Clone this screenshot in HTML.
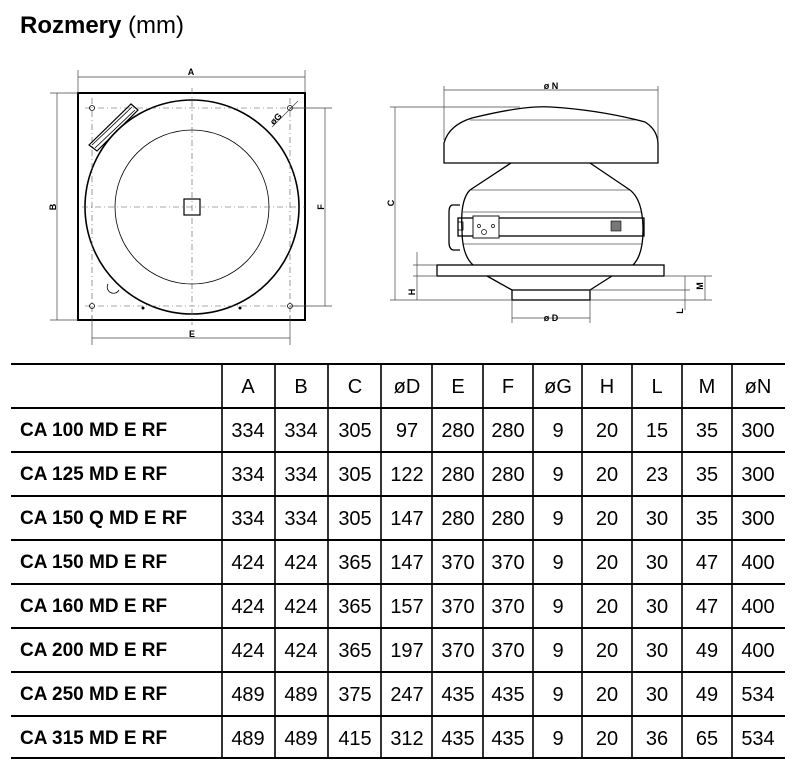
<!DOCTYPE html>
<html><head><meta charset="utf-8"><style>
body{margin:0;background:#fff;width:794px;height:767px;overflow:hidden;font-family:"Liberation Sans",sans-serif}
svg{position:absolute;left:0;top:0}
</style></head><body>
<svg width="794" height="767" viewBox="0 0 794 767" font-family="Liberation Sans, sans-serif">
<text x="20" y="33" font-size="24" font-weight="bold">Rozmery <tspan font-weight="normal">(mm)</tspan></text>

<!-- Left drawing -->
<g stroke="#000" fill="none">
<rect x="78" y="93" width="227" height="227" stroke-width="2"/>
<circle cx="192" cy="207" r="107" stroke-width="1.6"/>
<circle cx="192" cy="207" r="77" stroke-width="0.8"/>
<rect x="184" y="199" width="16" height="16" stroke-width="1.2"/>
<g stroke-width="0.6" stroke-dasharray="6,3,1,3" stroke="#555">
<line x1="192" y1="88" x2="192" y2="325"/><line x1="82" y1="207" x2="305" y2="207"/>
<line x1="85" y1="108" x2="300" y2="108"/><line x1="85" y1="306" x2="300" y2="306"/>
<line x1="92" y1="98" x2="92" y2="316"/><line x1="290" y1="98" x2="290" y2="316"/>
</g>
<g stroke-width="0.8">
<circle cx="92" cy="108" r="2.5"/><circle cx="290" cy="108" r="2.5"/><circle cx="92" cy="306" r="2.5"/><circle cx="290" cy="306" r="2.5"/>
<path d="M108 284 a6 6 0 1 0 11 6"/>
<path d="M89 145 L131 104 L138 110 L97 151 Z" stroke-width="1.2"/>
<line x1="92" y1="145" x2="132" y2="107"/><line x1="95" y1="148" x2="135" y2="110"/>
</g>
<circle cx="143" cy="308" r="1" fill="#000"/><circle cx="240" cy="308" r="1" fill="#000"/>
<!-- dimension lines -->
<g stroke-width="0.7" stroke="#444">
<line x1="78" y1="77" x2="305" y2="77"/><line x1="78" y1="70" x2="78" y2="93"/><line x1="305" y1="70" x2="305" y2="93"/>
<line x1="57" y1="93" x2="57" y2="320"/><line x1="50" y1="93" x2="78" y2="93"/><line x1="50" y1="320" x2="78" y2="320"/>
<line x1="325" y1="108" x2="325" y2="306"/><line x1="290" y1="108" x2="332" y2="108"/><line x1="290" y1="306" x2="332" y2="306"/>
<line x1="92" y1="338" x2="290" y2="338"/><line x1="92" y1="316" x2="92" y2="345"/><line x1="290" y1="316" x2="290" y2="345"/>
<line x1="272" y1="127" x2="298" y2="101"/>
</g>
</g>
<g fill="#000" font-size="9" font-weight="bold" text-anchor="middle">
<text x="191" y="75">A</text>
<text x="192" y="337">E</text>
<text x="0" y="0" transform="translate(56,207) rotate(-90)">B</text>
<text x="0" y="0" transform="translate(324,207) rotate(-90)">F</text>
<text x="0" y="0" transform="translate(278,121) rotate(-45)">øG</text>
</g>

<!-- Right drawing -->
<g stroke="#000" fill="none" stroke-width="1.3">
<path d="M444 163 L444 143 Q449 125 472 118 Q525 105 551 107 Q600 110 645 122 Q658 130 658 145 L658 163 Z"/>
<line x1="470" y1="120" x2="635" y2="120" stroke-width="0.5"/>
<path d="M511 163 L470 190 M590 163 L630 190"/>
<path d="M470 190 Q460 200 462 230 Q462 255 473 265 M630 190 Q643 200 643 230 Q643 255 633 265"/>
<line x1="470" y1="190" x2="630" y2="190" stroke-width="0.5"/>
<line x1="463" y1="212" x2="642" y2="212" stroke-width="0.5"/>
<line x1="463" y1="244" x2="642" y2="244" stroke-width="0.5"/>
<rect x="458" y="218" width="186" height="18"/>
<rect x="473" y="216" width="26" height="22" fill="#fff" stroke-width="0.9"/>
<path d="M460 205 L452 205 Q449 206 449 212 L449 242 Q449 249 453 250 L460 250" stroke-width="1.3"/>
<rect x="458" y="222" width="5" height="8" stroke-width="0.8"/>
<rect x="611" y="221" width="10" height="10" fill="#777" stroke-width="0.6"/>
<circle cx="479" cy="226" r="1.5" stroke-width="0.7"/><circle cx="493" cy="226" r="1.5" stroke-width="0.7"/><circle cx="484" cy="232" r="2.5" stroke-width="0.7"/>
<rect x="437" y="265" width="227" height="11"/>
<path d="M487 276 L512 290 M612 276 L590 290"/>
<rect x="512" y="290" width="78" height="10"/>
<g stroke-width="0.7" stroke="#444">
<line x1="444" y1="90" x2="658" y2="90"/><line x1="444" y1="86" x2="444" y2="140"/><line x1="658" y1="86" x2="658" y2="140"/>
<line x1="395" y1="107" x2="395" y2="300"/><line x1="390" y1="107" x2="520" y2="107"/><line x1="390" y1="300" x2="512" y2="300"/>
<line x1="512" y1="318" x2="590" y2="318"/><line x1="512" y1="300" x2="512" y2="323"/><line x1="590" y1="300" x2="590" y2="323"/>
<line x1="417" y1="252" x2="417" y2="300"/><line x1="413" y1="265" x2="437" y2="265"/><line x1="413" y1="276" x2="437" y2="276"/>
<line x1="685" y1="276" x2="685" y2="310"/><line x1="705" y1="276" x2="705" y2="300"/>
<line x1="664" y1="276" x2="712" y2="276"/><line x1="590" y1="290" x2="690" y2="290"/><line x1="590" y1="300" x2="712" y2="300"/>
</g>
</g>
<g fill="#000" font-size="9" font-weight="bold" text-anchor="middle">
<text x="551" y="89">ø N</text>
<text x="551" y="321">ø D</text>
<text x="0" y="0" transform="translate(394,203) rotate(-90)">C</text>
<text x="0" y="0" transform="translate(415,292) rotate(-90)">H</text>
<text x="0" y="0" transform="translate(703,286) rotate(-90)">M</text>
<text x="0" y="0" transform="translate(683,311) rotate(-90)">L</text>
</g>

<!-- Table -->
<g stroke="#000" stroke-width="2">
<line x1="11" y1="364" x2="785" y2="364"/>
<line x1="11" y1="408" x2="785" y2="408"/>
<line x1="11" y1="452" x2="785" y2="452"/>
<line x1="11" y1="496" x2="785" y2="496"/>
<line x1="11" y1="540" x2="785" y2="540"/>
<line x1="11" y1="584" x2="785" y2="584"/>
<line x1="11" y1="628" x2="785" y2="628"/>
<line x1="11" y1="672" x2="785" y2="672"/>
<line x1="11" y1="716" x2="785" y2="716"/>
<line x1="11" y1="758" x2="785" y2="758"/>
<g stroke-width="1.6">
<line x1="222" y1="364" x2="222" y2="758"/><line x1="275" y1="364" x2="275" y2="758"/>
<line x1="328" y1="364" x2="328" y2="758"/><line x1="381" y1="364" x2="381" y2="758"/>
<line x1="432" y1="364" x2="432" y2="758"/><line x1="483" y1="364" x2="483" y2="758"/>
<line x1="533" y1="364" x2="533" y2="758"/><line x1="582" y1="364" x2="582" y2="758"/>
<line x1="632" y1="364" x2="632" y2="758"/><line x1="682" y1="364" x2="682" y2="758"/>
<line x1="732" y1="364" x2="732" y2="758"/>
</g>
</g>
<g font-size="20" text-anchor="middle" fill="#000">
<text y="393"><tspan x="248">A</tspan><tspan x="301">B</tspan><tspan x="355">C</tspan><tspan x="407">øD</tspan><tspan x="458">E</tspan><tspan x="508">F</tspan><tspan x="558">øG</tspan><tspan x="607">H</tspan><tspan x="657">L</tspan><tspan x="707">M</tspan><tspan x="758">øN</tspan></text>
<text y="437"><tspan x="248">334</tspan><tspan x="301">334</tspan><tspan x="355">305</tspan><tspan x="407">97</tspan><tspan x="458">280</tspan><tspan x="508">280</tspan><tspan x="558">9</tspan><tspan x="607">20</tspan><tspan x="657">15</tspan><tspan x="707">35</tspan><tspan x="758">300</tspan></text>
<text y="481"><tspan x="248">334</tspan><tspan x="301">334</tspan><tspan x="355">305</tspan><tspan x="407">122</tspan><tspan x="458">280</tspan><tspan x="508">280</tspan><tspan x="558">9</tspan><tspan x="607">20</tspan><tspan x="657">23</tspan><tspan x="707">35</tspan><tspan x="758">300</tspan></text>
<text y="525"><tspan x="248">334</tspan><tspan x="301">334</tspan><tspan x="355">305</tspan><tspan x="407">147</tspan><tspan x="458">280</tspan><tspan x="508">280</tspan><tspan x="558">9</tspan><tspan x="607">20</tspan><tspan x="657">30</tspan><tspan x="707">35</tspan><tspan x="758">300</tspan></text>
<text y="569"><tspan x="248">424</tspan><tspan x="301">424</tspan><tspan x="355">365</tspan><tspan x="407">147</tspan><tspan x="458">370</tspan><tspan x="508">370</tspan><tspan x="558">9</tspan><tspan x="607">20</tspan><tspan x="657">30</tspan><tspan x="707">47</tspan><tspan x="758">400</tspan></text>
<text y="613"><tspan x="248">424</tspan><tspan x="301">424</tspan><tspan x="355">365</tspan><tspan x="407">157</tspan><tspan x="458">370</tspan><tspan x="508">370</tspan><tspan x="558">9</tspan><tspan x="607">20</tspan><tspan x="657">30</tspan><tspan x="707">47</tspan><tspan x="758">400</tspan></text>
<text y="657"><tspan x="248">424</tspan><tspan x="301">424</tspan><tspan x="355">365</tspan><tspan x="407">197</tspan><tspan x="458">370</tspan><tspan x="508">370</tspan><tspan x="558">9</tspan><tspan x="607">20</tspan><tspan x="657">30</tspan><tspan x="707">49</tspan><tspan x="758">400</tspan></text>
<text y="701"><tspan x="248">489</tspan><tspan x="301">489</tspan><tspan x="355">375</tspan><tspan x="407">247</tspan><tspan x="458">435</tspan><tspan x="508">435</tspan><tspan x="558">9</tspan><tspan x="607">20</tspan><tspan x="657">30</tspan><tspan x="707">49</tspan><tspan x="758">534</tspan></text>
<text y="745"><tspan x="248">489</tspan><tspan x="301">489</tspan><tspan x="355">415</tspan><tspan x="407">312</tspan><tspan x="458">435</tspan><tspan x="508">435</tspan><tspan x="558">9</tspan><tspan x="607">20</tspan><tspan x="657">36</tspan><tspan x="707">65</tspan><tspan x="758">534</tspan></text>
</g>
<g font-size="19" font-weight="bold" fill="#000">
<text x="20" y="436">CA 100 MD E RF</text>
<text x="20" y="480">CA 125 MD E RF</text>
<text x="20" y="524">CA 150 Q MD E RF</text>
<text x="20" y="568">CA 150 MD E RF</text>
<text x="20" y="612">CA 160 MD E RF</text>
<text x="20" y="656">CA 200 MD E RF</text>
<text x="20" y="700">CA 250 MD E RF</text>
<text x="20" y="744">CA 315 MD E RF</text>
</g>
</svg>
</body></html>
